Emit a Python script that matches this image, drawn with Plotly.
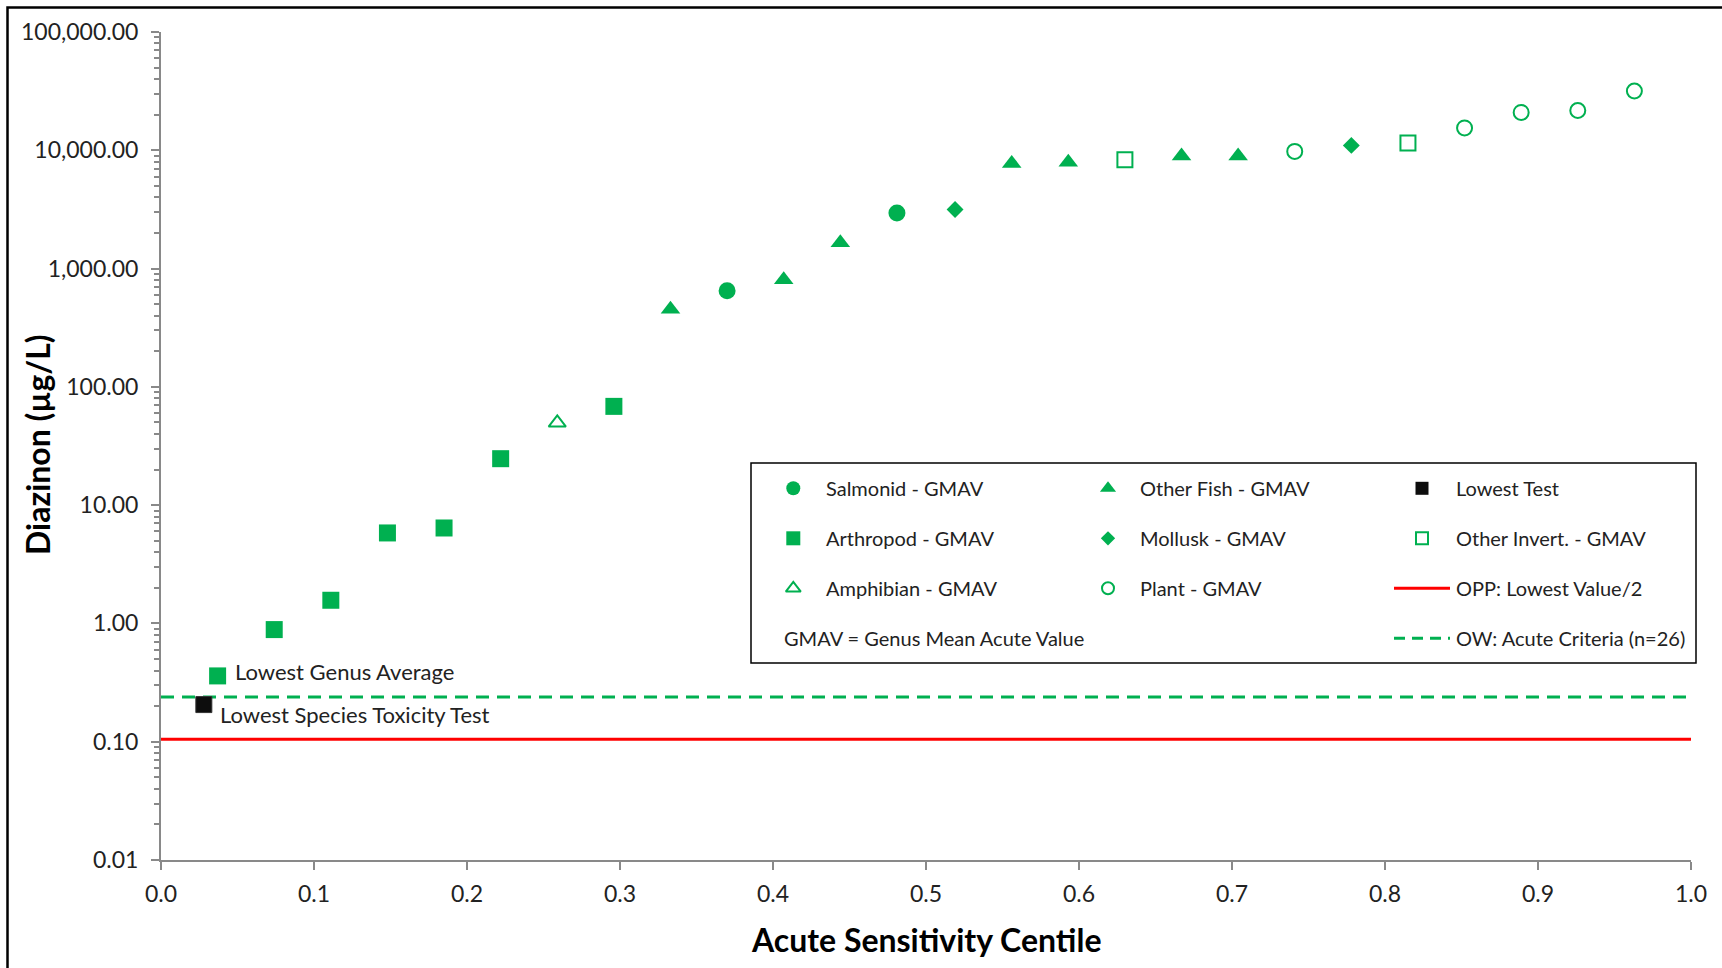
import plotly.graph_objects as go
import math

# ---------------- data ----------------
arthropod_x = [0.037, 0.074, 0.111, 0.148, 0.185, 0.222, 0.296]
arthropod_y = [0.36, 0.887, 1.57, 5.82, 6.41, 24.7, 68.4]

amphibian_x = [0.259]
amphibian_y = [49.7]

otherfish_x = [0.333, 0.407, 0.444, 0.556, 0.593, 0.667, 0.704]
otherfish_y = [454, 805, 1655, 7750, 7920, 8950, 8950]

salmonid_x = [0.370, 0.481]
salmonid_y = [650, 2950]

mollusk_x = [0.519, 0.778]
mollusk_y = [3160, 11000]

otherinvert_x = [0.630, 0.815]
otherinvert_y = [8330, 11530]

plant_x = [0.741, 0.852, 0.889, 0.926, 0.963]
plant_y = [9790, 15450, 20900, 21700, 31700]

lowest_test_x = [0.028]
lowest_test_y = [0.206]

opp_x = [0.0, 1.0]
opp_y = [0.105, 0.105]
ow_x = [0.0, 1.0]
ow_y = [0.239, 0.239]

y_tickvals = [0.01, 0.1, 1, 10, 100, 1000, 10000, 100000]
x_tickvals = [0.0, 0.1, 0.2, 0.3, 0.4, 0.5, 0.6, 0.7, 0.8, 0.9, 1.0]

# ---------------- style ----------------
GREEN = "#00B050"
AXIS = "#898989"
TXT = "#222222"
FONT = "Lato"
W, H = 1722, 968
ML, MR, MT, MB = 161, 31, 32, 108
PW, PH = W - ML - MR, H - MT - MB


def fx(px):
    return (px - ML) / PW


def fy(py):
    return (H - MB - py) / PH


fig = go.Figure()


def marker_style(symbol, size, filled, color, lw=2):
    if filled:
        return dict(symbol=symbol, size=size, color=color, line=dict(width=0))
    return dict(symbol=symbol, size=size, color=color, line=dict(color=color, width=lw))


def add(x, y, name, symbol, size, filled=True, color=GREEN):
    fig.add_trace(go.Scatter(
        x=x, y=y, mode="markers", name=name, showlegend=False,
        marker=marker_style(symbol, size, filled, color), cliponaxis=False))


# reference lines
fig.add_trace(go.Scatter(x=opp_x, y=opp_y, mode="lines", showlegend=False,
                         line=dict(color="#FF0000", width=3)))
fig.add_trace(go.Scatter(x=ow_x, y=ow_y, mode="lines", showlegend=False,
                         line=dict(color=GREEN, width=3, dash="13px,8px")))

add(arthropod_x, arthropod_y, "Arthropod - GMAV", "square", 17)
add(amphibian_x, amphibian_y, "Amphibian - GMAV", "triangle-up-open", 15, filled=False)
add(otherfish_x, otherfish_y, "Other Fish - GMAV", "triangle-up", 17)
add(salmonid_x, salmonid_y, "Salmonid - GMAV", "circle", 17)
add(mollusk_x, mollusk_y, "Mollusk - GMAV", "diamond", 13)
add(otherinvert_x, otherinvert_y, "Other Invert. - GMAV", "square-open", 15, filled=False)
add(plant_x, plant_y, "Plant - GMAV", "circle-open", 15, filled=False)
fig.add_trace(go.Scatter(x=lowest_test_x, y=lowest_test_y, mode="markers",
                         showlegend=False,
                         marker=dict(symbol="square", size=16, color="#0d0d0d",
                                     line=dict(color="#333333", width=1))))

# ---------------- manual legend (overlay axis in plot-fraction coords) ----------------
rows = [488.3, 538.3, 588.3, 638.3]
sym_x = [793.3, 1108.0, 1422.0]
txt_x = [823.5, 1138.3, 1453.6]
legend_items = [
    (0, 0, "Salmonid - GMAV", "circle", 14, True, GREEN),
    (1, 0, "Arthropod - GMAV", "square", 14, True, GREEN),
    (2, 0, "Amphibian - GMAV", "triangle-up-open", 13, False, GREEN),
    (0, 1, "Other Fish - GMAV", "triangle-up", 14, True, GREEN),
    (1, 1, "Mollusk - GMAV", "diamond", 11, True, GREEN),
    (2, 1, "Plant - GMAV", "circle-open", 12, False, GREEN),
    (0, 2, "Lowest Test", "square", 13, True, "#0d0d0d"),
    (1, 2, "Other Invert. - GMAV", "square-open", 12, False, GREEN),
]
for r, c, label, sym, sz, filled, col in legend_items:
    fig.add_trace(go.Scatter(
        x=[fx(sym_x[c])], y=[fy(rows[r])], xaxis="x2", yaxis="y2",
        mode="markers", showlegend=False, hoverinfo="skip", cliponaxis=False,
        marker=marker_style(sym, sz, filled, col)))
    fig.add_annotation(x=fx(txt_x[c]), y=fy(rows[r]), xref="paper", yref="paper",
                       text=label, showarrow=False, xanchor="left", yanchor="middle",
                       font=dict(family=FONT, size=20, color=TXT))

# legend line samples
fig.add_shape(type="line", xref="paper", yref="paper",
              x0=fx(1394), x1=fx(1450), y0=fy(rows[2]), y1=fy(rows[2]),
              line=dict(color="#FF0000", width=3))
fig.add_shape(type="line", xref="paper", yref="paper",
              x0=fx(1394), x1=fx(1450), y0=fy(rows[3]), y1=fy(rows[3]),
              line=dict(color=GREEN, width=3, dash="11px,7px"))
fig.add_annotation(x=fx(txt_x[2]), y=fy(rows[2]), xref="paper", yref="paper",
                   text="OPP: Lowest Value/2", showarrow=False, xanchor="left",
                   yanchor="middle", font=dict(family=FONT, size=20, color=TXT))
fig.add_annotation(x=fx(txt_x[2]), y=fy(rows[3]), xref="paper", yref="paper",
                   text="OW: Acute Criteria (n=26)", showarrow=False, xanchor="left",
                   yanchor="middle", font=dict(family=FONT, size=20, color=TXT))
fig.add_annotation(x=fx(782), y=fy(rows[3]), xref="paper", yref="paper",
                   text="GMAV = Genus Mean Acute Value", showarrow=False, xanchor="left",
                   yanchor="middle", font=dict(family=FONT, size=20, color=TXT))
# legend box
fig.add_shape(type="rect", xref="paper", yref="paper",
              x0=fx(751), x1=fx(1696), y0=fy(663), y1=fy(463),
              line=dict(color="black", width=1.5), layer="below", fillcolor="white")

# outer chart border (only left/top visible in the picture)
fig.add_shape(type="rect", xref="paper", yref="paper",
              x0=fx(7.5), x1=fx(1760), y0=fy(1000), y1=fy(7.5),
              line=dict(color="black", width=2.5))

# point labels
fig.add_annotation(x=arthropod_x[0], y=math.log10(arthropod_y[0]), text="Lowest Genus Average",
                   showarrow=False, xanchor="left", yanchor="middle", xshift=15, yshift=4,
                   font=dict(family=FONT, size=22, color=TXT))
fig.add_annotation(x=lowest_test_x[0], y=math.log10(lowest_test_y[0]),
                   text="Lowest Species Toxicity Test",
                   showarrow=False, xanchor="left", yanchor="middle", xshift=14, yshift=-10,
                   font=dict(family=FONT, size=22, color=TXT))

# axis titles
fig.add_annotation(x=0.5, y=fy(939), xref="paper", yref="paper", text="<b>Acute Sensitivity Centile</b>",
                   showarrow=False, xanchor="center", yanchor="middle",
                   font=dict(family=FONT, size=32, color="black"))
fig.add_annotation(x=fx(37), y=fy(445), xref="paper", yref="paper", text="<b>Diazinon (µg/L)</b>",
                   showarrow=False, xanchor="center", yanchor="middle", textangle=-90,
                   font=dict(family=FONT, size=32, color="black"))

fig.update_layout(
    width=W, height=H,
    margin=dict(l=ML, r=MR, t=MT, b=MB),
    paper_bgcolor="white", plot_bgcolor="rgba(0,0,0,0)",
    font=dict(family=FONT, color=TXT),
    xaxis=dict(range=[0, 1], tickvals=x_tickvals, tickformat=".1f",
               showline=True, linecolor=AXIS, linewidth=2,
               ticks="outside", ticklen=8, tickcolor=AXIS, tickwidth=2,
               ticklabelstandoff=4,
               showgrid=False, zeroline=False,
               tickfont=dict(family=FONT, size=23, color=TXT)),
    yaxis=dict(type="log", range=[-2, 5], tickvals=y_tickvals, tickformat=",.2f",
               showline=True, linecolor=AXIS, linewidth=2,
               ticks="outside", ticklen=8, tickcolor=AXIS, tickwidth=2,
               ticklabelstandoff=8,
               minor=dict(ticks="outside", ticklen=5, tickcolor=AXIS, tickwidth=1.5,
                          dtick="D1", showgrid=False),
               showgrid=False, zeroline=False,
               tickfont=dict(family=FONT, size=23, color=TXT)),
    xaxis2=dict(domain=[0, 1], range=[0, 1], anchor="y2", visible=False, fixedrange=True),
    yaxis2=dict(domain=[0, 1], range=[0, 1], anchor="x2", visible=False, fixedrange=True),
)

fig.write_html("out.html")
